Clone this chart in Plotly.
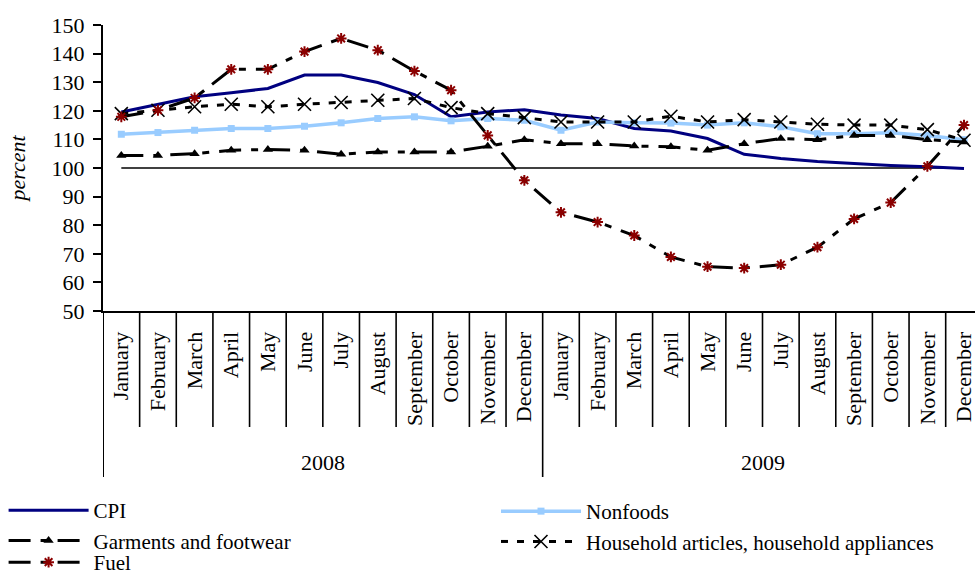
import plotly.graph_objects as go

# Monthly price indices, percent of the same month a year earlier
months = ["January", "February", "March", "April", "May", "June", "July",
          "August", "September", "October", "November", "December"]
years = ["2008", "2009"]
month_labels = months * 2

cpi = [119.6, 122.3, 124.9, 126.3, 127.8, 132.5, 132.5, 129.9, 125.7, 117.9, 119.6, 120.4,
       118.5, 117.3, 113.8, 112.9, 110.3, 104.8, 103.3, 102.3, 101.5, 100.9, 100.4, 99.8]
nonfoods = [111.8, 112.4, 113.2, 113.8, 113.8, 114.6, 115.8, 117.3, 117.9, 116.5, 117.3, 116.7,
            113.2, 116.1, 115.8, 115.7, 115.0, 115.8, 114.4, 112.0, 112.0, 112.3, 111.4, 109.9]
garments = [104.4, 104.4, 105.0, 106.2, 106.5, 106.2, 104.8, 105.6, 105.6, 105.6, 107.6, 109.9,
            108.5, 108.5, 107.7, 107.4, 106.2, 108.5, 110.3, 109.9, 111.4, 111.4, 109.9, 109.1]
household = [119.0, 120.2, 121.4, 122.3, 121.4, 122.3, 122.9, 123.7, 124.3, 121.1, 119.0, 117.6,
             116.1, 116.1, 116.1, 118.1, 116.1, 116.9, 116.1, 115.3, 115.0, 115.0, 113.4, 109.7]
fuel = [117.9, 120.2, 124.5, 134.5, 134.5, 140.7, 145.3, 141.2, 133.9, 127.2, 111.4, 95.7,
        84.5, 81.1, 76.4, 68.9, 65.5, 65.0, 66.2, 72.3, 82.2, 87.9, 100.6, 115.0]
baseline = 100

x = list(range(len(month_labels)))
FONT = "Liberation Serif, Times New Roman, serif"

fig = go.Figure()

fig.add_trace(go.Scatter(
    x=x, y=cpi, name="CPI", mode="lines",
    line=dict(color="#000080", width=3), legend="legend"))
fig.add_trace(go.Scatter(
    x=x, y=nonfoods, name="Nonfoods", mode="lines+markers",
    line=dict(color="#99CCFF", width=3.5),
    marker=dict(symbol="square", size=7, color="#99CCFF"), legend="legend2"))
fig.add_trace(go.Scatter(
    x=x, y=garments, name="Garments and footwear", mode="lines+markers",
    line=dict(color="black", width=3, dash="22px,10px,7px,10px"),
    marker=dict(symbol="triangle-up", size=9, color="black"), legend="legend"))
fig.add_trace(go.Scatter(
    x=x, y=household, name="Household articles, household appliances", mode="lines+markers",
    line=dict(color="black", width=3, dash="7px,9px"),
    marker=dict(symbol="x-thin-open", size=13, color="black",
                line=dict(color="black", width=1.6)), legend="legend2"))
fig.add_trace(go.Scatter(
    x=x, y=fuel, name="Fuel", mode="lines+markers",
    line=dict(color="black", width=3, dash="22px,10px,7px,10px"),
    marker=dict(symbol="asterisk-open", size=9, color="#8B0000",
                line=dict(color="#8B0000", width=2)), legend="legend3"))

# plot geometry (pixels) used to place the category dividers below the axis
top, bottom = 25, 311
plot_h = bottom - top

def paper_y(px):
    return (bottom - px) / plot_h

shapes = [dict(type="line", xref="x", yref="y", x0=0, x1=len(x) - 1,
               y0=baseline, y1=baseline, line=dict(color="black", width=1.5), layer="below")]
n_months = len(months)
for i in range(len(x) - 1):
    b = i + 0.5
    long_div = (i + 1) % n_months == 0
    shapes.append(dict(type="line", xref="x", yref="paper", x0=b, x1=b,
                       y0=0, y1=paper_y(477 if long_div else 427),
                       line=dict(color="black", width=1.6)))
shapes.append(dict(type="line", xref="x", yref="paper", x0=-0.5, x1=-0.5,
                   y0=0, y1=paper_y(477), line=dict(color="black", width=2)))

annotations = []
for k, yr in enumerate(years):
    annotations.append(dict(xref="x", yref="paper", x=k * n_months + (n_months - 1) / 2,
                            y=paper_y(462), text=yr, showarrow=False,
                            font=dict(family=FONT, size=22, color="black"),
                            xanchor="center", yanchor="middle"))

legend_style = dict(yanchor="top", xanchor="left", orientation="v", itemwidth=80,
                    tracegroupgap=0, bgcolor="rgba(0,0,0,0)",
                    font=dict(family=FONT, size=21, color="black"))
left_col = -0.114
right_col = (496 - 103) / 872

fig.update_layout(
    width=975, height=578,
    margin=dict(l=103, r=0, t=top, b=578 - bottom, autoexpand=False),
    paper_bgcolor="white", plot_bgcolor="white",
    font=dict(family=FONT, color="black"),
    shapes=shapes, annotations=annotations,
    legend=dict(x=left_col, y=paper_y(490), **legend_style),
    legend2=dict(x=right_col, y=paper_y(491), **legend_style),
    legend3=dict(x=left_col, y=paper_y(542), **legend_style),
    xaxis=dict(range=[-0.5, 23.3], tickmode="array", tickvals=x, ticktext=month_labels,
               tickangle=-90, ticks="", showgrid=False, zeroline=False,
               showline=True, linecolor="black", linewidth=2,
               ticklabelstandoff=10, ticklabeloverflow="allow",
               tickfont=dict(family=FONT, size=22, color="black")),
    yaxis=dict(range=[50, 150], dtick=10, ticks="outside", ticklen=8, tickwidth=2,
               tickcolor="black", showgrid=False, zeroline=False,
               showline=True, linecolor="black", linewidth=2,
               ticklabelstandoff=4,
               tickfont=dict(family=FONT, size=22, color="black"),
               title=dict(text="percent", standoff=20,
                          font=dict(family=FONT, size=22, color="black", style="italic"))),
)

fig.write_html("out.html")
